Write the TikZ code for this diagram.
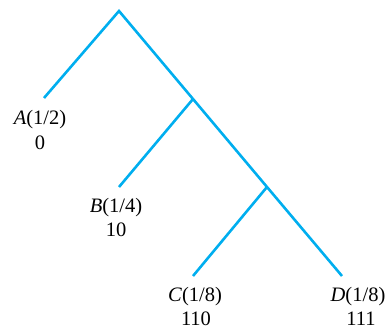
\documentclass[tikz,border=0pt]{standalone}
\usepackage{fontspec}
\setmainfont{Liberation Serif}
\definecolor{treeblue}{RGB}{0,174,239}
\begin{document}
\begin{tikzpicture}[x=1pt,y=-1pt,
  branch/.style={draw=treeblue,line width=2.6pt,line join=miter},
  lbl/.style={inner sep=0pt,anchor=base,font=\fontsize{20.5}{24}\selectfont}]
\useasboundingbox (0,0) rectangle (388,329);
\coordinate (root) at (119,11);
\coordinate (n1) at (193,99);
\coordinate (n2) at (267,187);
\coordinate (a) at (44,98);
\coordinate (b) at (119,187);
\coordinate (c) at (193,276);
\coordinate (d) at (342,276);
\draw[branch] (a) -- (root) -- (n1) -- (n2) -- (d);
\draw[branch] (n1) -- (b);
\draw[branch] (n2) -- (c);
\node[lbl] (aname) at (40,124) {\textit{A}(1/2)};
\node[lbl] (acode) at (40,149) {0};
\node[lbl] (bname) at (116,212) {\textit{B}(1/4)};
\node[lbl] (bcode) at (116,236) {10};
\node[lbl] (cname) at (195,301) {\textit{C}(1/8)};
\node[lbl] (ccode) at (196,325) {110};
\node[lbl] (dname) at (358,301) {\textit{D}(1/8)};
\node[lbl] (dcode) at (361,325) {111};
\end{tikzpicture}
\end{document}
